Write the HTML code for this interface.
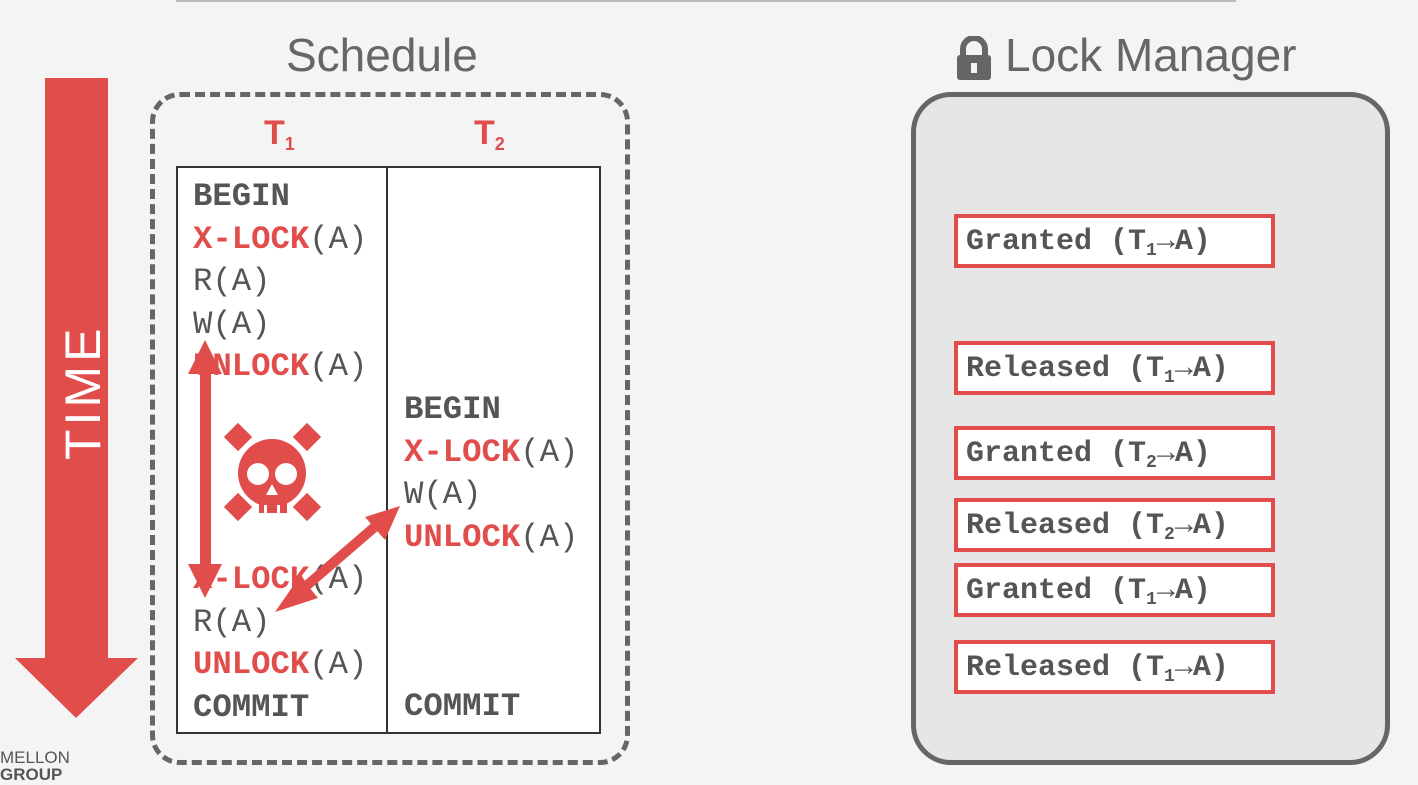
<!DOCTYPE html>
<html><head><style>
body{margin:0;width:1418px;height:778px;background:#f4f4f4;position:relative;overflow:hidden;font-family:"Liberation Sans",sans-serif}
.a{position:absolute}
.m{font-family:"Liberation Mono",monospace;font-size:32.3px;color:#555;white-space:nowrap;line-height:42.5px}
.r{color:#e04d4b;font-weight:bold}
.b{font-weight:bold;color:#555}
.lm{position:absolute;left:954px;width:305px;height:46px;border:4px solid #e04d4b;background:#fff;font-family:"Liberation Mono",monospace;font-weight:bold;font-size:30px;color:#555;line-height:48px;padding-left:8px;box-sizing:content-box;white-space:nowrap}
sub{font-size:18px;vertical-align:-6px;line-height:0}
</style></head><body>
<div class="a" style="left:176px;top:0;width:1060px;height:2px;background:#bbb"></div>
<div class="a" style="left:286px;top:28px;font-size:46px;color:#666">Schedule</div>
<div class="a" style="left:1005px;top:28px;font-size:46px;color:#666">Lock Manager</div>
<svg class="a" style="left:955px;top:36px" width="38" height="44"><path d="M8 20 V13 A11 11 0 0 1 30 13 V20" fill="none" stroke="#666" stroke-width="6"/><rect x="2" y="19" width="34" height="25" rx="3" fill="#666"/><rect x="16" y="27" width="6" height="10" fill="#f4f4f4"/></svg>
<svg class="a" style="left:0;top:0" width="150" height="778"><rect x="45" y="78" width="63" height="580" fill="#e04d4b"/><polygon points="15,658 138,658 76,718" fill="#e04d4b"/><text transform="translate(100,460) rotate(-90)" font-family="Liberation Sans" font-size="50" fill="#fff" letter-spacing="4">TIME</text></svg>
<div class="a" style="left:0;top:748px;font-size:17px;color:#555">MELLON</div>
<div class="a" style="left:0;top:765px;font-size:17px;font-weight:bold;color:#555">GROUP</div>
<div class="a" style="left:150px;top:92px;width:470px;height:663px;border:5px dashed #666;border-radius:30px"></div>
<div class="a" style="left:176px;top:166px;width:421px;height:564px;border:2px solid #333;background:#fff"></div>
<div class="a" style="left:386px;top:166px;width:2px;height:566px;background:#333"></div>
<div class="a" style="left:264px;top:114px;font-size:34px;font-weight:bold;color:#e04d4b">T<sub>1</sub></div>
<div class="a" style="left:474px;top:114px;font-size:34px;font-weight:bold;color:#e04d4b">T<sub>2</sub></div>
<div class="a m" style="left:193px;top:176px"><span class="b">BEGIN</span><br><span class="r">X-LOCK</span>(A)<br>R(A)<br>W(A)<br><span class="r">UNLOCK</span>(A)</div>
<div class="a m" style="left:193px;top:559px"><span class="r">X-LOCK</span>(A)<br>R(A)<br><span class="r">UNLOCK</span>(A)<br><span class="b">COMMIT</span></div>
<div class="a m" style="left:404px;top:389px"><span class="b">BEGIN</span><br><span class="r">X-LOCK</span>(A)<br>W(A)<br><span class="r">UNLOCK</span>(A)</div>
<div class="a m" style="left:404px;top:686px"><span class="b">COMMIT</span></div>
<svg class="a" style="left:0;top:0" width="700" height="778">
<g fill="#e04d4b" stroke="none">
<rect x="200" y="360" width="11" height="210"/>
<polygon points="205,340 188,374 222,374"/>
<polygon points="205,598 188,564 222,564"/>
<line x1="290" y1="600" x2="385" y2="518" stroke="#e04d4b" stroke-width="10"/>
<polygon points="275,612 300,576 318,598"/>
<polygon points="400,506 365,517 385,540"/>
<circle cx="272" cy="473" r="34"/>
<rect x="259" y="495" width="28" height="18"/>
<rect x="228" y="427" width="20" height="20" transform="rotate(45 238 437)"/>
<rect x="297" y="427" width="20" height="20" transform="rotate(45 307 437)"/>
<rect x="228" y="497" width="20" height="20" transform="rotate(45 238 507)"/>
<rect x="297" y="497" width="20" height="20" transform="rotate(45 307 507)"/>
</g>
<circle cx="258" cy="474" r="11" fill="#fff"/><circle cx="286" cy="474" r="11" fill="#fff"/>
<polygon points="272,484 266,495 278,495" fill="#fff"/>
<rect x="264" y="505" width="3" height="8" fill="#fff"/><rect x="277" y="505" width="3" height="8" fill="#fff"/>
</svg>
<div class="a" style="left:911px;top:92px;width:469px;height:663px;border:5px solid #666;border-radius:40px;background:#e6e6e6"></div>
<div class="lm" style="top:214px">Granted (T<sub>1</sub>→A)</div>
<div class="lm" style="top:341px">Released (T<sub>1</sub>→A)</div>
<div class="lm" style="top:426px">Granted (T<sub>2</sub>→A)</div>
<div class="lm" style="top:498px">Released (T<sub>2</sub>→A)</div>
<div class="lm" style="top:563px">Granted (T<sub>1</sub>→A)</div>
<div class="lm" style="top:640px">Released (T<sub>1</sub>→A)</div>
</body></html>
